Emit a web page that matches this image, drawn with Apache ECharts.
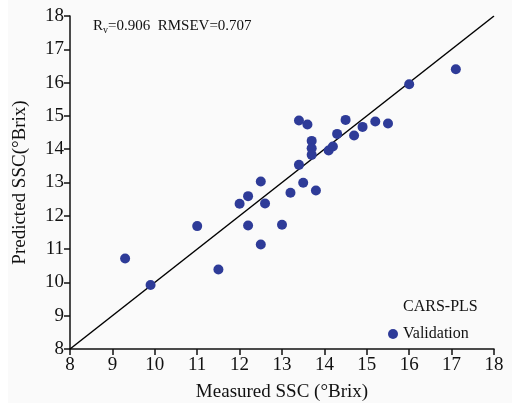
<!DOCTYPE html>
<html>
<head>
<meta charset="utf-8">
<script src="https://cdn.jsdelivr.net/npm/echarts@6/dist/echarts.min.js"></script>
<style>
html, body { margin: 0; padding: 0; background: #ffffff; }
#main { width: 512px; height: 407px; }
</style>
</head>
<body>
<div id="main"></div>
<script>
// measured vs predicted SSC (°Brix), validation set
var measured = [17.1, 16.0, 13.4, 13.6, 14.5, 15.2, 15.5, 14.9, 14.3, 14.7,
    13.7, 13.7, 13.7, 14.1, 14.2, 13.4, 13.5, 13.8, 13.2, 12.5,
    12.6, 12.2, 12.0, 12.2, 13.0, 12.5, 11.0, 9.3, 11.5, 9.9];
var predicted = [16.4, 15.95, 14.86, 14.74, 14.88, 14.83, 14.77, 14.67, 14.46, 14.41,
    14.25, 14.03, 13.83, 13.96, 14.08, 13.53, 12.99, 12.76, 12.69, 13.03,
    12.37, 12.59, 12.36, 11.71, 11.73, 11.14, 11.69, 10.72, 10.39, 9.92];
var ticks = [8, 9, 10, 11, 12, 13, 14, 15, 16, 17, 18];
var refLine = [[8, 8], [18, 18]];

var pts = [];
for (var i = 0; i < measured.length; i++) {
    pts.push([measured[i], predicted[i]]);
}

var serif = '"Liberation Serif", "DejaVu Serif", serif';
var dom = document.getElementById('main');
var myChart = echarts.init(dom);
var option = {
    animation: false,
    backgroundColor: '#ffffff',
    graphic: [
        { type: 'rect', z: -10, shape: { x: 8, y: 0, width: 504, height: 403 }, style: { fill: '#fafafa' } },
        {
            type: 'text', left: 93, top: 19,
            style: {
                text: '{n|R}{s|v}{n|=0.906  RMSEV=0.707}',
                rich: {
                    n: { fontFamily: serif, fontSize: 15, fill: '#111' },
                    s: { fontFamily: serif, fontSize: 10, fill: '#111', padding: [8, 0, 0, 0] }
                }
            }
        },
        { type: 'text', left: 403, top: 299, style: { text: 'CARS-PLS', fontFamily: serif, fontSize: 16, fill: '#111' } }
    ],
    legend: {
        data: ['Validation'],
        left: 383, top: 321,
        icon: 'circle', itemWidth: 10, itemHeight: 10, itemGap: 5,
        textStyle: { fontFamily: serif, fontSize: 16, color: '#111' }
    },
    grid: { left: 70, right: 18, top: 16, bottom: 57 },
    xAxis: {
        type: 'value', min: 8, max: 18, interval: 1,
        name: 'Measured SSC (°Brix)', nameLocation: 'middle', nameGap: 34,
        nameTextStyle: { fontFamily: serif, fontSize: 19, color: '#111' },
        axisLine: { lineStyle: { color: '#111', width: 1.5 } },
        axisTick: { show: true, length: 6, lineStyle: { color: '#111', width: 1.5 } },
        axisLabel: { fontFamily: serif, fontSize: 19, color: '#111', margin: 7,
            formatter: function (v) { return ticks.indexOf(v) >= 0 ? String(v) : ''; } },
        splitLine: { show: false }
    },
    yAxis: {
        type: 'value', min: 8, max: 18, interval: 1,
        name: 'Predicted SSC(°Brix)', nameLocation: 'middle', nameGap: 40,
        nameTextStyle: { fontFamily: serif, fontSize: 19, color: '#111' },
        axisLine: { show: true, lineStyle: { color: '#111', width: 1.5 } },
        axisTick: { show: true, length: 6, lineStyle: { color: '#111', width: 1.5 } },
        axisLabel: { fontFamily: serif, fontSize: 19, color: '#111', margin: 6 },
        splitLine: { show: false }
    },
    series: [
        {
            name: 'fit', type: 'line', data: refLine, symbol: 'none',
            lineStyle: { color: '#000', width: 1.5 }, silent: true
        },
        {
            name: 'Validation', type: 'scatter', data: pts,
            symbolSize: 10, itemStyle: { color: '#2e3b98', opacity: 1 }, z: 3
        }
    ]
};
myChart.setOption(option, true);
</script>
</body>
</html>
